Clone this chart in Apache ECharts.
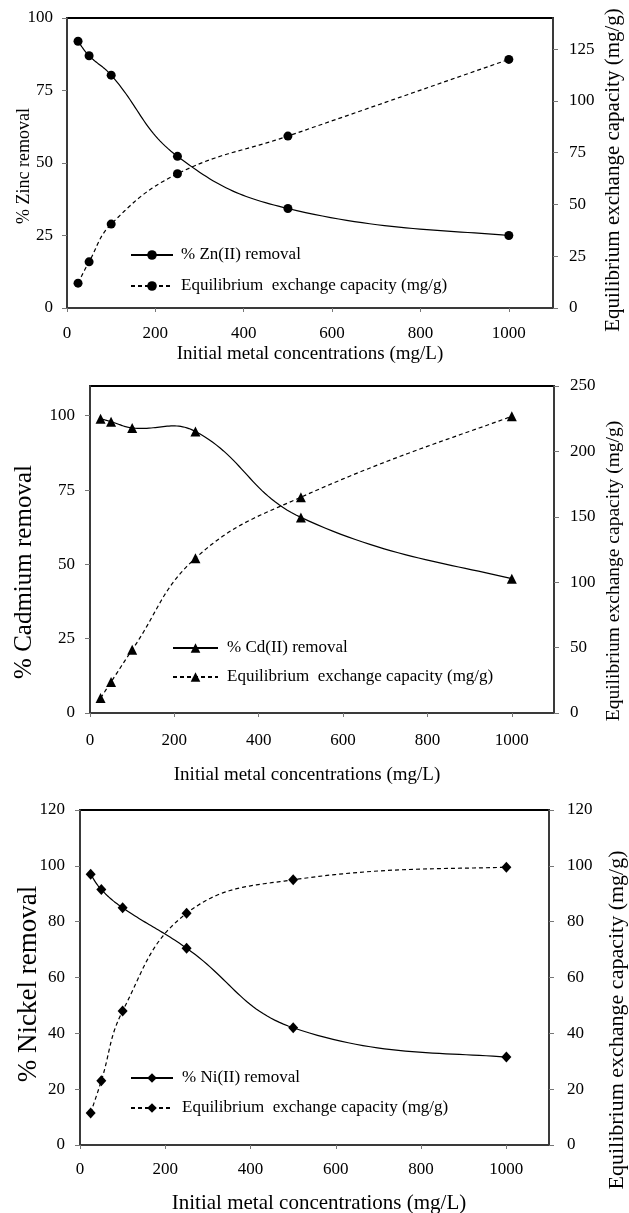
<!DOCTYPE html>
<html>
<head>
<meta charset="utf-8">
<title>Metal removal and exchange capacity</title>
<script src="https://cdn.jsdelivr.net/npm/echarts@6/dist/echarts.min.js"></script>
<style>
  html, body { margin: 0; padding: 0; background: #fff; }
  #chart { width: 629px; height: 1213px; }
</style>
</head>
<body>
<div id="chart"></div>
<script>
// Initial metal concentrations (mg/L)
const conc = [25, 50, 100, 250, 500, 1000];

// Zinc
const znRemoval = [92, 87, 80.3, 52.3, 34.3, 25];
const znCapacity = [12, 22.3, 40.5, 64.8, 83, 120];
// Cadmium
const cdRemoval = [99, 98, 95.9, 94.7, 65.8, 45.2];
const cdCapacity = [11.4, 23.7, 48.3, 118.4, 165, 226.8];
// Nickel
const niRemoval = [97, 91.5, 85, 70.5, 42, 31.5];
const niCapacity = [11.5, 23, 48, 83, 95, 99.5];

// Tick labels
const xTicks = [0, 200, 400, 600, 800, 1000];
const znLeftTicks = [0, 25, 50, 75, 100];
const znRightTicks = [0, 25, 50, 75, 100, 125];
const cdLeftTicks = [0, 25, 50, 75, 100];
const cdRightTicks = [0, 50, 100, 150, 200, 250];
const niLeftTicks = [0, 20, 40, 60, 80, 100, 120];
const niRightTicks = [0, 20, 40, 60, 80, 100, 120];

// Text
const xTitle = 'Initial metal concentrations (mg/L)';
const capTitle = 'Equilibrium exchange capacity (mg/g)';
const capLegend = 'Equilibrium  exchange capacity (mg/g)';

const FONT = '"Liberation Serif", "Times New Roman", serif';
const SMOOTH = 0.42;

const panels = [
  {
    removal: znRemoval, capacity: znCapacity, symbol: 'circle', symbolSize: 9,
    removalName: '% Zn(II) removal', capName: 'cap-zn',
    grid: { left: 67, top: 18, width: 486, height: 290 },
    yLeft: { max: 100, interval: 25, ticks: znLeftTicks },
    yRight: { max: 140, interval: 25, ticks: znRightTicks },
    tickFont: 17, marginL: 14, marginR: 16, marginX: 17,
    legend: { left: 130, top: 246.5, itemWidth: 42, itemGap: 14, fontSize: 17, pad: 3 },
    xTitle: { x: 310, y: 354, size: 19 },
    lTitle: { text: '% Zinc removal', x: 24, y: 166, size: 18 },
    rTitle: { x: 613, y: 170, size: 21 }
  },
  {
    removal: cdRemoval, capacity: cdCapacity, symbol: 'triangle', symbolSize: 10,
    removalName: '% Cd(II) removal', capName: 'cap-cd',
    grid: { left: 90, top: 386, width: 464, height: 327 },
    yLeft: { max: 110, interval: 25, ticks: cdLeftTicks },
    yRight: { max: 250, interval: 50, ticks: cdRightTicks },
    tickFont: 17, marginL: 15, marginR: 16, marginX: 19,
    legend: { left: 172, top: 639.5, itemWidth: 45, itemGap: 12, fontSize: 17, pad: 4 },
    xTitle: { x: 307, y: 775, size: 19 },
    lTitle: { text: '% Cadmium removal', x: 24, y: 572, size: 25 },
    rTitle: { x: 614, y: 571, size: 19.5 }
  },
  {
    removal: niRemoval, capacity: niCapacity, symbol: 'diamond', symbolSize: [10, 11],
    removalName: '% Ni(II) removal', capName: 'cap-ni',
    grid: { left: 80, top: 810, width: 469, height: 335 },
    yLeft: { max: 120, interval: 20, ticks: niLeftTicks },
    yRight: { max: 120, interval: 20, ticks: niRightTicks },
    tickFont: 17, marginL: 15, marginR: 18, marginX: 16,
    legend: { left: 130, top: 1069.5, itemWidth: 42, itemGap: 13, fontSize: 17, pad: 4 },
    xTitle: { x: 319, y: 1203, size: 21 },
    lTitle: { text: '% Nickel removal', x: 29, y: 984, size: 27 },
    rTitle: { x: 617, y: 1020, size: 22 }
  }
];

const capLabels = { 'cap-zn': capLegend, 'cap-cd': capLegend, 'cap-ni': capLegend };
const plain = (v) => String(v);

// Cubic Bezier curve through pixel points, tangents scaled by neighbouring
// segment lengths (spreadsheet-style smoothing, allowed to overshoot).
// End handles blend the end chord with the neighbouring handle so the
// first and last segments bend gently without an inflection.
function smoothCurve(pts, s, steps) {
  const n = pts.length;
  const cpIn = [], cpOut = [];
  for (let i = 1; i < n - 1; i++) {
    const p = pts[i], a = pts[i - 1], b = pts[i + 1];
    const vx = b[0] - a[0], vy = b[1] - a[1];
    const l0 = Math.hypot(p[0] - a[0], p[1] - a[1]);
    const l1 = Math.hypot(b[0] - p[0], b[1] - p[1]);
    const r = l1 / (l0 + l1);
    cpIn[i] = [p[0] - vx * s * (1 - r), p[1] - vy * s * (1 - r)];
    cpOut[i] = [p[0] + vx * s * r, p[1] + vy * s * r];
  }
  const endHandle = (end, nb, h) => [
    end[0] + 0.25 * (h[0] - end[0]) + (nb[0] - end[0]) / 6,
    end[1] + 0.25 * (h[1] - end[1]) + (nb[1] - end[1]) / 6
  ];
  cpOut[0] = endHandle(pts[0], pts[1], cpIn[1]);
  cpIn[n - 1] = endHandle(pts[n - 1], pts[n - 2], cpOut[n - 2]);

  const out = [pts[0]];
  for (let i = 0; i < n - 1; i++) {
    const p0 = pts[i], c1 = cpOut[i], c2 = cpIn[i + 1], p1 = pts[i + 1];
    for (let k = 1; k <= steps; k++) {
      const t = k / steps, u = 1 - t;
      const w0 = u * u * u, w1 = 3 * u * u * t, w2 = 3 * u * t * t, w3 = t * t * t;
      out.push([
        w0 * p0[0] + w1 * c1[0] + w2 * c2[0] + w3 * p1[0],
        w0 * p0[1] + w1 * c1[1] + w2 * c2[1] + w3 * p1[1]
      ]);
    }
  }
  return out;
}

const grids = [], xAxes = [], yAxes = [], series = [], legends = [], graphics = [];

panels.forEach((p, i) => {
  grids.push(Object.assign({
    show: true, borderColor: '#000', borderWidth: 2, backgroundColor: 'transparent'
  }, p.grid));

  const axisLineStyle = { color: '#3a3a3a', width: 2 };
  const tickStyle = { color: '#777', width: 1 };
  const labelStyle = { color: '#000', fontFamily: FONT, fontSize: p.tickFont, formatter: plain };

  xAxes.push({
    type: 'value', gridIndex: i, min: 0, max: 1100, interval: 200,
    splitLine: { show: false },
    axisLine: { show: true, onZero: false, lineStyle: axisLineStyle },
    axisTick: { show: true, length: 4, lineStyle: tickStyle, customValues: xTicks },
    axisLabel: Object.assign({ margin: p.marginX, customValues: xTicks }, labelStyle)
  });

  yAxes.push({
    type: 'value', gridIndex: i, position: 'left', min: 0,
    max: p.yLeft.max, interval: p.yLeft.interval,
    splitLine: { show: false },
    axisLine: { show: true, onZero: false, lineStyle: axisLineStyle },
    axisTick: { show: true, length: 5, lineStyle: tickStyle, customValues: p.yLeft.ticks },
    axisLabel: Object.assign({ margin: p.marginL, customValues: p.yLeft.ticks }, labelStyle)
  });
  yAxes.push({
    type: 'value', gridIndex: i, position: 'right', min: 0,
    max: p.yRight.max, interval: p.yRight.interval,
    splitLine: { show: false },
    axisLine: { show: true, onZero: false, lineStyle: axisLineStyle },
    axisTick: { show: true, length: 5, lineStyle: tickStyle, customValues: p.yRight.ticks },
    axisLabel: Object.assign({ margin: p.marginR, customValues: p.yRight.ticks }, labelStyle)
  });

  const curves = [
    { name: p.removalName, values: p.removal, yIndex: 2 * i, dash: 'solid' },
    { name: p.capName, values: p.capacity, yIndex: 2 * i + 1, dash: [4, 3] }
  ];

  curves.forEach((c) => {
    const data = conc.map((x, k) => [x, c.values[k]]);
    // smoothed connecting curve, projected through the panel's axes
    series.push({
      type: 'custom', name: c.name + ' curve', coordinateSystem: 'cartesian2d',
      xAxisIndex: i, yAxisIndex: c.yIndex, data: data, silent: true, z: 2,
      animation: false,
      renderItem: (params, api) => {
        if (params.dataIndex !== 0) return null;
        const pts = data.map((d) => api.coord(d));
        return {
          type: 'polyline',
          shape: { points: smoothCurve(pts, SMOOTH, 30) },
          style: {
            stroke: '#000', lineWidth: 1.2, fill: null,
            lineDash: c.dash === 'solid' ? null : c.dash
          }
        };
      }
    });
    // data markers (line kept for the legend icon only)
    series.push({
      type: 'line', name: c.name, xAxisIndex: i, yAxisIndex: c.yIndex,
      symbol: p.symbol, symbolSize: p.symbolSize, showSymbol: true,
      itemStyle: { color: '#000', borderWidth: 0 },
      lineStyle: { color: 'rgba(0,0,0,0)', width: 1.2, type: c.dash },
      emphasis: { disabled: true }, animation: false, z: 3,
      data: data
    });
  });

  legends.push({
    orient: 'vertical', left: p.legend.left, top: p.legend.top, padding: 0,
    itemWidth: p.legend.itemWidth, itemHeight: 12, itemGap: p.legend.itemGap,
    selectedMode: false,
    data: [
      { name: p.removalName, lineStyle: { color: '#000' } },
      { name: p.capName, lineStyle: { color: '#000' } }
    ],
    formatter: (name) => capLabels[name] || name,
    textStyle: {
      color: '#000', fontFamily: FONT, fontSize: p.legend.fontSize,
      lineHeight: 12, padding: [0, 0, 0, p.legend.pad]
    }
  });

  const txt = (text, x, y, size, rot) => ({
    type: 'text', x: x, y: y, rotation: rot || 0, silent: true,
    style: { text: text, font: size + 'px ' + FONT, fill: '#000', align: 'center', verticalAlign: 'middle' }
  });
  graphics.push(txt(xTitle, p.xTitle.x, p.xTitle.y, p.xTitle.size));
  graphics.push(txt(p.lTitle.text, p.lTitle.x, p.lTitle.y, p.lTitle.size, Math.PI / 2));
  graphics.push(txt(capTitle, p.rTitle.x, p.rTitle.y, p.rTitle.size, Math.PI / 2));
});

const chart = echarts.init(document.getElementById('chart'), null, { renderer: 'canvas' });
chart.setOption({
  animation: false,
  backgroundColor: '#fff',
  grid: grids,
  xAxis: xAxes,
  yAxis: yAxes,
  legend: legends,
  series: series,
  graphic: graphics
});
</script>
</body>
</html>
